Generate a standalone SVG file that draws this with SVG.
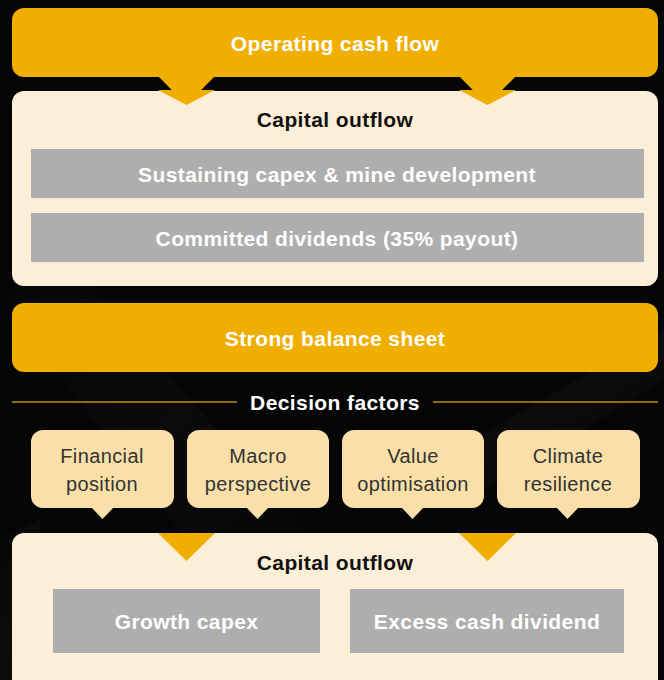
<svg xmlns="http://www.w3.org/2000/svg" width="664" height="680" viewBox="0 0 664 680">
  <defs>
    <style>
      .orange { fill: #F0AE00; }
      .cream { fill: #FDEFD7; }
      .bar { fill: #AEAEAE; }
      .bubble { fill: #FAE0A8; }
      .t { font-family: "Liberation Sans", Arial, sans-serif; text-anchor: middle; dominant-baseline: central; }
      .head { font-size: 21px; font-weight: bold; fill: #FFFFFF; letter-spacing: 0.4px; }
      .title { font-size: 21px; font-weight: bold; fill: #111111; letter-spacing: 0.4px; }
      .barText { font-size: 21px; font-weight: bold; fill: #FFFFFF; letter-spacing: 0.4px; }
      .factor { font-size: 20px; fill: #333333; letter-spacing: 0.4px; }
      .rule { stroke: #C38E0C; stroke-width: 1.5; }
    </style>
    <linearGradient id="streak" x1="0" y1="0" x2="1" y2="1">
      <stop offset="0" stop-color="#2a2620" stop-opacity="0"/>
      <stop offset="0.5" stop-color="#2a2620" stop-opacity="0.6"/>
      <stop offset="1" stop-color="#2a2620" stop-opacity="0"/>
    </linearGradient>
  </defs>

  <!-- dark backdrop with faint diagonal streaks -->
  <rect x="0" y="0" width="664" height="680" fill="#050505"/>
  <polygon points="0,300 60,250 330,560 250,620" fill="url(#streak)" opacity="0.3"/>
  <polygon points="420,470 664,330 664,380 470,500" fill="url(#streak)" opacity="0.35"/>
  <polygon points="0,540 40,520 30,680 0,680" fill="url(#streak)" opacity="0.4"/>

  <!-- connectors: pointer triangles between stages -->
  <g id="connectors">
    <polygon class="orange" points="158,76 215,76 186.5,105"/>
    <polygon class="orange" points="459,76 516,76 487.5,105"/>
  </g>

  <g id="operating-cash-flow">
    <rect class="orange" x="12" y="8" width="646" height="69" rx="12"/>
    <text class="t head" x="335" y="43">Operating cash flow</text>
  </g>

  <g id="capital-outflow-committed">
    <rect class="cream" x="12" y="91" width="646" height="195" rx="12"/>
    <polygon class="orange" points="158,90 215,90 186.5,105"/>
    <polygon class="orange" points="459,90 516,90 487.5,105"/>
    <text class="t title" x="335" y="119">Capital outflow</text>
    <rect class="bar" x="31" y="149" width="613" height="49"/>
    <text class="t barText" x="337" y="174">Sustaining capex &amp; mine development</text>
    <rect class="bar" x="31" y="213" width="613" height="49"/>
    <text class="t barText" x="337" y="238">Committed dividends (35% payout)</text>
  </g>

  <g id="strong-balance-sheet">
    <rect class="orange" x="12" y="303" width="646" height="69" rx="12"/>
    <text class="t head" x="335" y="338">Strong balance sheet</text>
  </g>

  <g id="decision-factors">
    <line class="rule" x1="12" y1="402" x2="237" y2="402"/>
    <line class="rule" x1="433" y1="402" x2="658" y2="402"/>
    <text class="t head" x="335" y="402">Decision factors</text>
  </g>

  <g id="factor-financial">
    <rect class="bubble" x="31" y="430" width="143" height="78" rx="12"/>
    <polygon class="bubble" points="91,507 114,507 102.5,519"/>
    <text class="t factor" x="102" y="456">Financial</text>
    <text class="t factor" x="102" y="484">position</text>
  </g>
  <g id="factor-macro">
    <rect class="bubble" x="187" y="430" width="142" height="78" rx="12"/>
    <polygon class="bubble" points="246,507 269,507 257.5,519"/>
    <text class="t factor" x="258" y="456">Macro</text>
    <text class="t factor" x="258" y="484">perspective</text>
  </g>
  <g id="factor-value">
    <rect class="bubble" x="342" y="430" width="142" height="78" rx="12"/>
    <polygon class="bubble" points="401,507 424,507 412.5,519"/>
    <text class="t factor" x="413" y="456">Value</text>
    <text class="t factor" x="413" y="484">optimisation</text>
  </g>
  <g id="factor-climate">
    <rect class="bubble" x="497" y="430" width="143" height="78" rx="12"/>
    <polygon class="bubble" points="556,507 579,507 567.5,519"/>
    <text class="t factor" x="568" y="456">Climate</text>
    <text class="t factor" x="568" y="484">resilience</text>
  </g>

  <g id="capital-outflow-discretionary">
    <rect class="cream" x="12" y="533" width="646" height="160" rx="12"/>
    <polygon class="orange" points="158,533 215,533 186.5,561"/>
    <polygon class="orange" points="459,533 516,533 487.5,561"/>
    <text class="t title" x="335" y="562">Capital outflow</text>
    <rect class="bar" x="53" y="589" width="267" height="64"/>
    <text class="t barText" x="186.5" y="621">Growth capex</text>
    <rect class="bar" x="350" y="589" width="274" height="64"/>
    <text class="t barText" x="487" y="621">Excess cash dividend</text>
  </g>
</svg>
